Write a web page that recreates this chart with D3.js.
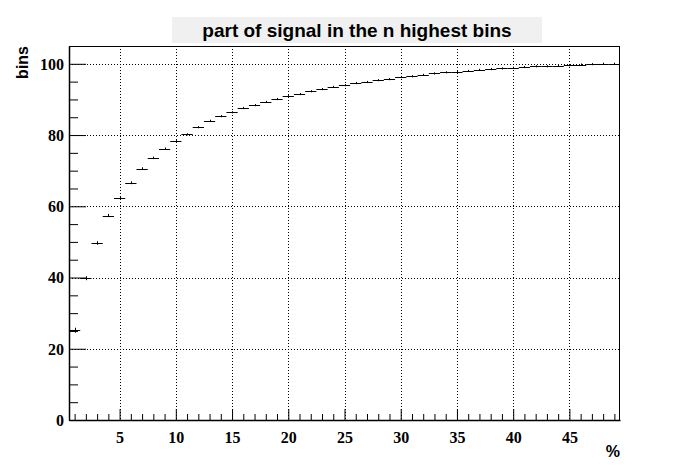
<!DOCTYPE html>
<html>
<head>
<meta charset="utf-8">
<script src="https://cdn.jsdelivr.net/npm/d3@7"></script>
<style>
  html, body { margin: 0; padding: 0; background: #ffffff; }
  svg { display: block; }
</style>
</head>
<body>
<svg id="chart" width="689" height="467"></svg>
<script>
// ---- data ----
const chartTitle = "part of signal in the n highest bins";
const xTitle = "%";
const yTitle = "bins";
const binCenters = [1,2,3,4,5,6,7,8,9,10,11,12,13,14,15,16,17,18,19,20,21,22,23,24,25,
                    26,27,28,29,30,31,32,33,34,35,36,37,38,39,40,41,42,43,44,45,46,47,48,49];
const binValues = [25.2, 39.8, 49.7, 57.4, 62.3, 66.6, 70.6, 73.6, 76.2, 78.3,
                   80.2, 82.2, 84.0, 85.3, 86.4, 87.6, 88.4, 89.3, 90.1, 90.9,
                   91.5, 92.3, 92.9, 93.5, 94.0, 94.6, 94.9, 95.4, 95.7, 96.3,
                   96.5, 96.9, 97.3, 97.6, 97.8, 98.0, 98.3, 98.5, 98.7, 98.9,
                   99.1, 99.3, 99.3, 99.5, 99.6, 99.8, 99.9, 100.0, 100.0];
const binErrors = [0.7, 0.55, 0.5, 0.45, 0.4, 0.4, 0.35, 0.35, 0.3, 0.3,
                   0.3, 0.3, 0.3, 0.3, 0.3, 0.3, 0.3, 0.3, 0.3, 0.3,
                   0.3, 0.3, 0.3, 0.3, 0.3, 0.3, 0.3, 0.3, 0.3, 0.3,
                   0.3, 0.3, 0.3, 0.3, 0.3, 0.3, 0.3, 0.3, 0.3, 0.3,
                   0.3, 0.3, 0.3, 0.3, 0.3, 0.3, 0.3, 0.3, 0.3];
const xMajorTicks = [5, 10, 15, 20, 25, 30, 35, 40, 45];
const yMajorTicks = [0, 20, 40, 60, 80, 100];
const xDomain = [0.5, 49.5];
const yDomain = [0, 105];

// ---- layout ----
const L = 69, R = 620, T = 46, B = 420;
const svg = d3.select("#chart");

const x = d3.scaleLinear().domain(xDomain).range([L, R]);
const y = d3.scaleLinear().domain(yDomain).range([B, T]);

// title box
const titleG = svg.append("g");
titleG.append("rect")
  .attr("x", 172).attr("y", 17).attr("width", 370).attr("height", 26)
  .attr("fill", "#f0f0f0");
titleG.append("text")
  .attr("x", 357).attr("y", 37)
  .attr("text-anchor", "middle")
  .attr("font-family", "'Liberation Sans', Arial, sans-serif")
  .attr("font-weight", "bold")
  .attr("font-size", 19)
  .attr("fill", "#000")
  .text(chartTitle);

// grid
const grid = svg.append("g")
  .attr("stroke", "#000").attr("stroke-width", 1)
  .attr("stroke-dasharray", "1,2");
grid.selectAll("line.vx").data(xMajorTicks).join("line")
  .attr("x1", d => Math.round(x(d)) + 0.5).attr("x2", d => Math.round(x(d)) + 0.5)
  .attr("y1", T).attr("y2", B);
grid.selectAll("line.hy").data(yMajorTicks.filter(d => d > 0)).join("line")
  .attr("y1", d => Math.round(y(d)) + 0.5).attr("y2", d => Math.round(y(d)) + 0.5)
  .attr("x1", L).attr("x2", R);

// frame
svg.append("rect")
  .attr("x", L + 0.5).attr("y", T + 0.5)
  .attr("width", R - L - 1).attr("height", B - T)
  .attr("fill", "none").attr("stroke", "#000").attr("stroke-width", 1);

// x axis (ticks inside, pointing up)
const xAxis = d3.axisBottom(x)
  .tickValues(binCenters)
  .tickSize(0)
  .tickFormat("");
const xAx = svg.append("g").attr("transform", `translate(0,${B})`).call(xAxis);
xAx.select(".domain").attr("stroke", "#000").attr("stroke-width", 1.5);
xAx.selectAll(".tick line")
  .attr("y2", d => xMajorTicks.includes(d) ? -11 : -6)
  .attr("stroke", "#000");
xAx.selectAll(".tick")
  .filter(d => xMajorTicks.includes(d))
  .append("text")
  .attr("y", 23)
  .attr("text-anchor", "middle")
  .attr("font-family", "'Liberation Serif', 'Times New Roman', serif")
  .attr("font-weight", "bold")
  .attr("font-size", 16)
  .attr("fill", "#000")
  .text(d => d);

// y axis (ticks inside, pointing right)
const yMinor = d3.range(0, 106, 5);
const yAxis = d3.axisLeft(y).tickValues(yMinor).tickSize(0).tickFormat("");
const yAx = svg.append("g").attr("transform", `translate(${L},0)`).call(yAxis);
yAx.select(".domain").attr("stroke", "#000").attr("stroke-width", 1.5);
yAx.selectAll(".tick line")
  .attr("x2", d => yMajorTicks.includes(d) ? 17 : 9)
  .attr("stroke", "#000");
yAx.selectAll(".tick")
  .filter(d => yMajorTicks.includes(d))
  .append("text")
  .attr("x", -5).attr("dy", "0.33em")
  .attr("text-anchor", "end")
  .attr("font-family", "'Liberation Serif', 'Times New Roman', serif")
  .attr("font-weight", "bold")
  .attr("font-size", 16)
  .attr("fill", "#000")
  .text(d => d);

// axis titles
svg.append("text")
  .attr("transform", `translate(28,${T}) rotate(-90)`)
  .attr("text-anchor", "end")
  .attr("font-family", "'Liberation Sans', Arial, sans-serif")
  .attr("font-weight", "bold")
  .attr("font-size", 16)
  .text(yTitle);
svg.append("text")
  .attr("x", R).attr("y", 457)
  .attr("text-anchor", "end")
  .attr("font-family", "'Liberation Sans', Arial, sans-serif")
  .attr("font-weight", "bold")
  .attr("font-size", 16)
  .text(xTitle);

// histogram marks (horizontal bin bars + vertical error bars)
const data = binCenters.map((c, i) => ({c, v: binValues[i], e: binErrors[i]}));
const marks = svg.append("g").attr("stroke", "#000").attr("stroke-width", 1);
marks.selectAll("line.h").data(data).join("line")
  .attr("x1", d => x(d.c - 0.5)).attr("x2", d => x(d.c + 0.5))
  .attr("y1", d => Math.round(y(d.v)) + 0.5).attr("y2", d => Math.round(y(d.v)) + 0.5);
marks.selectAll("line.v").data(data).join("line")
  .attr("x1", d => Math.round(x(d.c)) + 0.5).attr("x2", d => Math.round(x(d.c)) + 0.5)
  .attr("y1", d => y(d.v - d.e)).attr("y2", d => y(d.v + d.e));
</script>
</body>
</html>
